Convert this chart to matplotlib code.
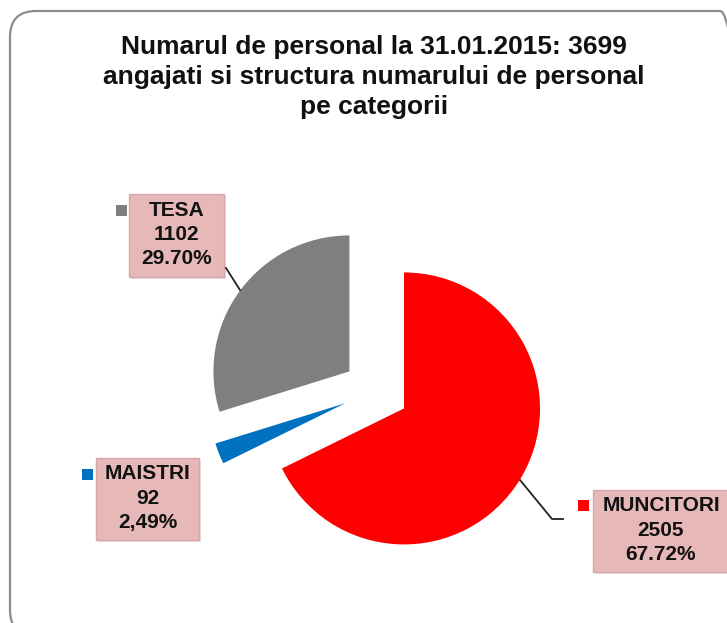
import numpy as np
import matplotlib.pyplot as plt
from matplotlib.patches import FancyBboxPatch, Rectangle

plt.rcParams['font.family'] = ['Liberation Sans', 'DejaVu Sans']

# data
categories = ['MUNCITORI', 'MAISTRI', 'TESA']
values = [2505, 92, 1102]
pct_labels = ['67.72%', '2,49%', '29.70%']
colors = ['#FF0000', '#0070C0', '#7F7F7F']

title = 'Numarul de personal la 31.01.2015: 3699\nangajati si structura numarului de personal\npe categorii'

W, H = 727, 623
fig = plt.figure(figsize=(W / 100, H / 100), dpi=100)
ax = fig.add_axes([0, 0, 1, 1])

def fy(y):
    # picture rows (from top) -> axes y
    return H - y

# pie, every slice pulled out a bit
ax.pie(values, colors=colors, startangle=90, counterclock=False,
       center=(376, fy(391)), radius=136, explode=[33, 33, 33],
       wedgeprops=dict(linewidth=0))

ax.set_xlim(0, W)
ax.set_ylim(0, H)
ax.axis('off')

# rounded outer frame
frame = FancyBboxPatch((10, fy(636)), 736, 625,
                       boxstyle='round,pad=0,rounding_size=26',
                       fc='none', ec='#8C8C8C', lw=1.6, clip_on=False)
ax.add_patch(frame)

ax.text(374, fy(77), title, ha='center', va='center', fontsize=19,
        fontweight='bold', linespacing=1.32, color='#111111')

# label boxes: (x0, y0, x1, y1) in picture pixels, key square position, leader line
boxes = {
    'MUNCITORI': dict(box=(593, 490, 735, 572), key=(578, 500),
                      line=[(520, 480), (552, 519), (563, 519)]),
    'MAISTRI': dict(box=(96, 458, 199, 540), key=(82, 469), line=None),
    'TESA': dict(box=(129, 194, 224, 277), key=(116, 205),
                 line=[(226, 268), (240, 290)]),
}

for cat, val, pct, col in zip(categories, values, pct_labels, colors):
    b = boxes[cat]
    x0, y0, x1, y1 = b['box']
    # soft shadow then box
    ax.add_patch(Rectangle((x0 + 2, fy(y1 + 2)), x1 - x0, y1 - y0,
                           fc='#E4E4E4', ec='none', clip_on=False))
    ax.add_patch(Rectangle((x0, fy(y1)), x1 - x0, y1 - y0,
                           fc='#E6B9B8', ec='#D9A5A5', lw=1, clip_on=False))
    cx = (x0 + x1) / 2
    if cat == 'MUNCITORI':
        cx = 661
    ax.text(cx, fy((y0 + y1) / 2 - 1), '%s\n%d\n%s' % (cat, val, pct),
            ha='center', va='center', fontsize=15, fontweight='bold',
            linespacing=1.36, color='#111111')
    kx, ky = b['key']
    ax.add_patch(Rectangle((kx, fy(ky + 11)), 11, 11, fc=col, ec='none'))
    if b['line']:
        xs = [p[0] for p in b['line']]
        ys = [fy(p[1]) for p in b['line']]
        ax.plot(xs, ys, color='#222222', lw=1.3)

fig.savefig('out.png', dpi=100)
